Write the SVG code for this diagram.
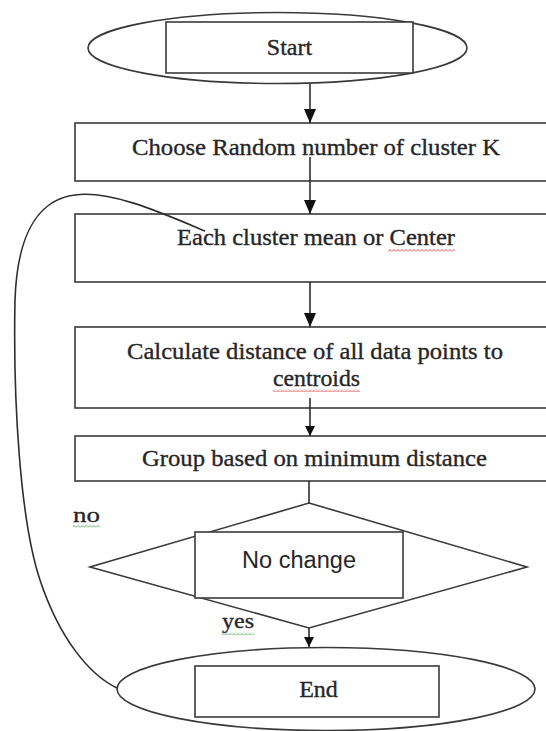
<svg xmlns="http://www.w3.org/2000/svg" width="546" height="731" viewBox="0 0 546 731">
<style>
.shape{fill:#fff;stroke:#3a3a3a;stroke-width:1.6}
.inner{fill:#fff;stroke:#3a3a3a;stroke-width:1.6}
.lbl{font-family:"Liberation Serif","Times New Roman",serif;font-size:24px;fill:#262626;stroke:#262626;stroke-width:0.35;text-anchor:middle}
.sans{font-family:"Liberation Sans",Arial,sans-serif;font-size:23px;fill:#262626;text-anchor:middle}
.small{font-family:"Liberation Serif","Times New Roman",serif;font-size:20px;fill:#262626;stroke:#262626;stroke-width:0.3}
.conn{fill:none;stroke:#2e2e2e;stroke-width:1.6}
</style>
<defs>
<marker id="arr" viewBox="0 0 14 12" refX="14" refY="6" markerWidth="14" markerHeight="12" markerUnits="userSpaceOnUse" orient="auto">
<path d="M0,0 L14,6 L0,12 z" fill="#111"/>
</marker>
<marker id="arrs" viewBox="0 0 10 10" refX="10" refY="5" markerWidth="10" markerHeight="10" markerUnits="userSpaceOnUse" orient="auto">
<path d="M0,0 L10,5 L0,10 z" fill="#111"/>
</marker>
<pattern id="wavyR" width="4" height="3" patternUnits="userSpaceOnUse">
<path d="M0,2.5 L2,0.5 L4,2.5" stroke="#e03a3a" stroke-width="0.9" fill="none"/>
</pattern>
<pattern id="wavyG" width="4" height="3" patternUnits="userSpaceOnUse">
<path d="M0,2.5 L2,0.5 L4,2.5" stroke="#4aa84a" stroke-width="0.9" fill="none"/>
</pattern>
</defs>

<g id="start">
<ellipse class="shape" cx="277.5" cy="48" rx="189.5" ry="35.5"/>
<rect class="inner" x="166" y="22" width="247" height="51"/>
<text class="lbl" x="289.5" y="55">Start</text>
</g>

<g id="choose">
<rect class="shape" x="75" y="123" width="480" height="58"/>
<text class="lbl" x="316" y="155" textLength="368" lengthAdjust="spacingAndGlyphs">Choose Random number of cluster K</text>
</g>

<g id="each">
<rect class="shape" x="75" y="214" width="480" height="68"/>
<text class="lbl" x="316" y="245" textLength="278" lengthAdjust="spacingAndGlyphs">Each cluster mean or Center</text>
<rect x="388" y="249" width="67" height="3" fill="url(#wavyR)"/>
</g>

<g id="calculate">
<rect class="shape" x="75" y="327" width="480" height="81"/>
<text class="lbl" x="315" y="359" textLength="376" lengthAdjust="spacingAndGlyphs">Calculate distance of all data points to</text>
<text class="lbl" x="316.5" y="386" textLength="87" lengthAdjust="spacingAndGlyphs">centroids</text>
<rect x="273" y="389" width="87" height="3" fill="url(#wavyR)"/>
</g>

<g id="group">
<rect class="shape" x="75" y="436" width="480" height="45"/>
<text class="lbl" x="314.5" y="466" textLength="345" lengthAdjust="spacingAndGlyphs">Group based on minimum distance</text>
</g>

<g id="decision">
<polygon class="shape" points="309,503 527,567 309,628 90,567"/>
<rect class="inner" x="195" y="532" width="208" height="66"/>
<text class="sans" x="299" y="568" textLength="114" lengthAdjust="spacingAndGlyphs">No change</text>
</g>

<g id="end">
<ellipse class="shape" cx="326" cy="689" rx="209" ry="41.5"/>
<rect class="inner" x="195" y="666" width="244" height="51"/>
<text class="lbl" x="318.5" y="697">End</text>
</g>

<g id="labels">
<text class="small" x="73" y="522" textLength="27" lengthAdjust="spacingAndGlyphs">no</text>
<rect x="73" y="525" width="27" height="3" fill="url(#wavyG)"/>
<text class="small" x="222" y="628" textLength="32" lengthAdjust="spacingAndGlyphs">yes</text>
<rect x="222" y="632" width="32" height="3" fill="url(#wavyG)"/>
</g>

<g id="connectors">
<line class="conn" x1="310" y1="84" x2="310" y2="123" marker-end="url(#arr)"/>
<line class="conn" x1="310" y1="157" x2="310" y2="214" marker-end="url(#arr)"/>
<line class="conn" x1="310" y1="282" x2="310" y2="327" marker-end="url(#arr)"/>
<line class="conn" x1="310" y1="398" x2="310" y2="436" marker-end="url(#arrs)"/>
<line class="conn" x1="309" y1="481" x2="309" y2="503"/>
<line class="conn" x1="309" y1="628" x2="309" y2="647" marker-end="url(#arrs)"/>
<path class="conn" d="M205,231 C160,212 110,190 75,195 C35,200 17,240 15,300 C13,400 20,520 40,580 C60,640 90,675 117,688"/>
</g>
</svg>
